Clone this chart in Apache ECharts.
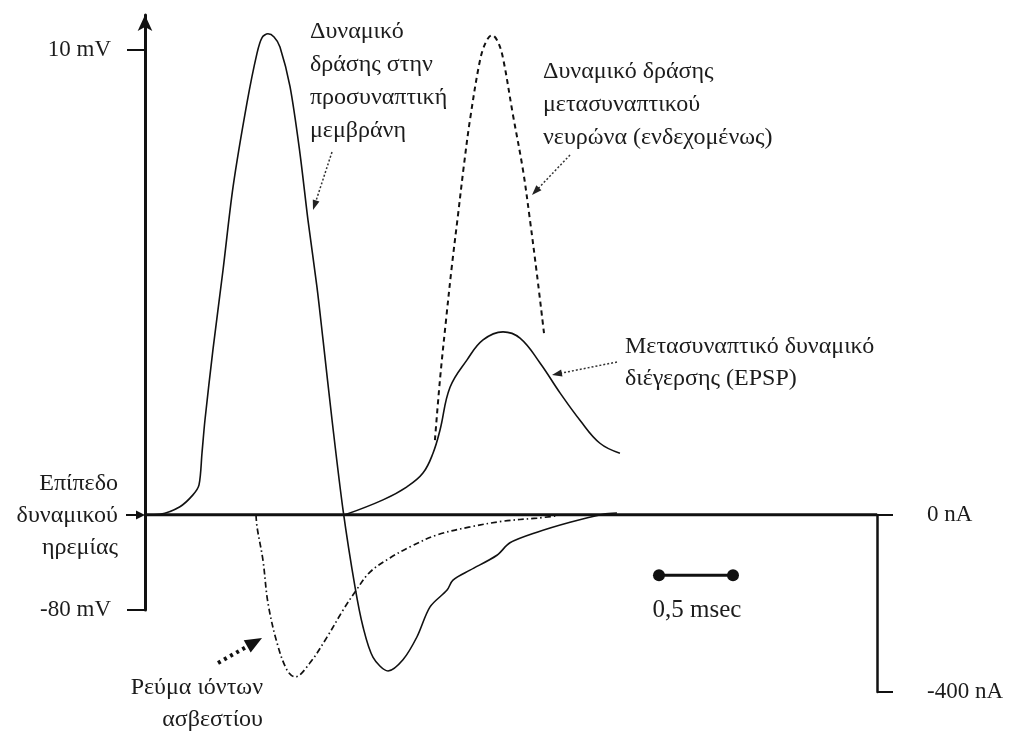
<!DOCTYPE html>
<html><head><meta charset="utf-8">
<script src="https://cdn.jsdelivr.net/npm/echarts@6/dist/echarts.min.js"></script>
<style>html,body{margin:0;padding:0;background:#fff}#c{width:1011px;height:731px}</style>
</head><body><div id="c"></div>
<script>
// time in ms, potential in mV, current in nA
const restLevel = -64.7;
const timeRange = [0, 4.946];
const preT = [0, 0.101, 0.236, 0.324, 0.365, 0.385, 0.405, 0.459, 0.527, 0.595, 0.689, 0.757, 0.791, 0.831, 0.872, 0.912, 0.980, 1.047, 1.101, 1.162, 1.203, 1.264, 1.338, 1.419, 1.473, 1.541, 1.642, 1.743, 1.838, 1.926, 2.041, 2.081, 2.196, 2.378, 2.466, 2.649, 2.872, 3.095, 3.189];
const preV = [-64.7, -64.6, -63.4, -61.5, -59.9, -54.8, -49.5, -38.2, -25.4, -12.0, 1.5, 9.5, 12.0, 12.6, 12.1, 10.5, 4.1, -6.6, -17.3, -28.1, -36.6, -49.5, -63.9, -76.3, -82.7, -87.6, -89.8, -88.0, -84.3, -79.5, -76.8, -75.2, -73.6, -71.2, -69.2, -67.5, -65.9, -64.6, -64.4];
const postT = [1.959, 1.993, 2.034, 2.074, 2.115, 2.155, 2.196, 2.264, 2.304, 2.345, 2.385, 2.419, 2.486, 2.554, 2.601, 2.649, 2.696];
const postV = [-52.7, -43.0, -33.4, -24.6, -16.5, -8.5, -1.2, 8.4, 11.3, 12.4, 11.3, 8.7, -0.4, -9.3, -17.3, -26.2, -35.5];
const epspT = [1.351, 1.608, 1.770, 1.878, 1.946, 1.993, 2.061, 2.176, 2.284, 2.419, 2.534, 2.669, 2.804, 2.939, 3.074, 3.209];
const epspV = [-64.7, -62.3, -60.2, -58.0, -54.8, -51.1, -44.2, -39.8, -36.6, -35.3, -36.3, -40.3, -45.1, -49.5, -53.2, -54.8];
const caT = [0.750, 0.757, 0.797, 0.831, 0.892, 0.959, 1.014, 1.115, 1.230, 1.338, 1.419, 1.520, 1.655, 1.791, 1.973, 2.196, 2.419, 2.649, 2.784];
const caI = [0, -27, -102, -199, -289, -350, -366, -334, -276, -215, -174, -129, -97, -72, -45, -27, -14, -7, -2];
const mvTicks = [-80, 10];
const naTicks = [-400, 0];
const scaleT = [3.473, 3.973];
const scaleLevel = -74.4;
const scaleText = '0,5 msec';
const textPre = ['Δυναμικό', 'δράσης στην', 'προσυναπτική', 'μεμβράνη'];
const textPost = ['Δυναμικό δράσης', 'μετασυναπτικού', 'νευρώνα (ενδεχομένως)'];
const textEpsp = ['Μετασυναπτικό δυναμικό', 'διέγερσης (EPSP)'];
const textRest = ['Επίπεδο', 'δυναμικού', 'ηρεμίας'];
const textCa = ['Ρεύμα ιόντων', 'ασβεστίου'];

const zip = (a, b) => a.map((v, i) => [v, b[i]]);
const FAMILY = '"Liberation Serif", "Times New Roman", serif';
const FONT = '24px ' + FAMILY;
const INK = '#1c1c1c';

function block(lines, x, y0, lh, align) {
  return lines.map((t, i) => ({
    type: 'text', silent: true,
    style: { text: t, x: x, y: y0 + i * lh, font: FONT, fill: INK, textAlign: align || 'left', textVerticalAlign: 'middle' }
  }));
}
function arrow(x1, y1, x2, y2, o) {
  const dx = x2 - x1, dy = y2 - y1, len = Math.hypot(dx, dy);
  const ux = dx / len, uy = dy / len, px = -uy, py = ux;
  const bx = x2 - ux * o.L, by = y2 - uy * o.L;
  return [
    { type: 'line', silent: true, shape: { x1: x1, y1: y1, x2: bx + ux * 1, y2: by + uy * 1 },
      style: { stroke: o.color || '#333', lineWidth: o.w, lineDash: o.dash || null, lineCap: o.cap || 'butt' } },
    { type: 'polygon', silent: true, shape: { points: [[x2, y2], [bx + px * o.W / 2, by + py * o.W / 2], [bx - px * o.W / 2, by - py * o.W / 2]] },
      style: { fill: o.color || '#222' } }
  ];
}

const graphics = [].concat(
  block(textPre, 310, 32, 33),
  block(textPost, 543, 72, 33),
  block(textEpsp, 625, 347, 32),
  block(textRest, 118, 484, 32, 'right'),
  block(textCa, 263, 688, 32, 'right'),
  [{ type: 'text', silent: true, style: { text: scaleText, x: 697, y: 610, font: '25px ' + FAMILY, fill: INK, textAlign: 'center', textVerticalAlign: 'middle' } }],
  arrow(332, 152, 313, 210, { w: 1.5, dash: [2, 2], L: 10, W: 7 }),
  arrow(570, 155, 532, 195, { w: 1.5, dash: [2, 2], L: 10, W: 7 }),
  arrow(617, 362, 552, 375, { w: 1.5, dash: [2, 2], L: 10, W: 7 }),
  arrow(126, 515, 145, 515, { w: 2, L: 9, W: 9, color: '#111' }),
  arrow(218, 663, 262, 638, { w: 4, dash: [3, 4], L: 17, W: 14, color: '#111' })
);

const chart = echarts.init(document.getElementById('c'), null, { renderer: 'canvas' });
const axisFont = { fontFamily: FAMILY, fontSize: 23, color: INK };
chart.setOption({
  animation: false,
  backgroundColor: '#fff',
  grid: [
    { left: 145, right: 134, top: 15, bottom: 121 },
    { left: 145, right: 134, top: 515, bottom: 39 }
  ],
  xAxis: [
    { gridIndex: 0, type: 'value', min: timeRange[0], max: timeRange[1], show: false },
    { gridIndex: 1, type: 'value', min: timeRange[0], max: timeRange[1], show: false }
  ],
  yAxis: [
    { gridIndex: 0, type: 'value', min: -80, max: 15.625, interval: 90, position: 'left',
      axisLine: { show: true, onZero: false, symbol: ['none', 'arrow'], symbolSize: [11, 16], lineStyle: { color: '#111', width: 3 } },
      axisTick: { show: true, length: 18, customValues: mvTicks, lineStyle: { color: '#111', width: 2 } },
      axisLabel: Object.assign({ margin: 34, customValues: mvTicks, formatter: v => v + ' mV' }, axisFont),
      splitLine: { show: false } },
    { gridIndex: 1, type: 'value', min: -400, max: 0, interval: 400, position: 'right',
      axisLine: { show: true, onZero: false, lineStyle: { color: '#111', width: 2.5 } },
      axisTick: { show: true, length: 16, customValues: naTicks, lineStyle: { color: '#111', width: 2 } },
      axisLabel: Object.assign({ margin: 50, customValues: naTicks, formatter: v => v + ' nA' }, axisFont),
      splitLine: { show: false } }
  ],
  series: [
    { name: 'rest', type: 'line', xAxisIndex: 0, yAxisIndex: 0, data: [[timeRange[0], restLevel], [timeRange[1], restLevel]],
      symbol: 'none', lineStyle: { color: '#111', width: 3 }, silent: true },
    { name: 'presynaptic AP', type: 'line', xAxisIndex: 0, yAxisIndex: 0, data: zip(preT, preV), clip: false,
      symbol: 'none', smooth: 0.3, lineStyle: { color: '#111', width: 1.6 } },
    { name: 'postsynaptic AP', type: 'line', xAxisIndex: 0, yAxisIndex: 0, data: zip(postT, postV), clip: false,
      symbol: 'none', smooth: 0.35, lineStyle: { color: '#111', width: 2, type: [5, 4] } },
    { name: 'EPSP', type: 'line', xAxisIndex: 0, yAxisIndex: 0, data: zip(epspT, epspV), clip: false,
      symbol: 'none', smooth: 0.4, lineStyle: { color: '#111', width: 1.6 } },
    { name: 'Ca current', type: 'line', xAxisIndex: 1, yAxisIndex: 1, data: zip(caT, caI), clip: false,
      symbol: 'none', smooth: 0.35, lineStyle: { color: '#111', width: 1.7, type: [6, 3, 1.5, 3] } },
    { name: 'scale', type: 'line', xAxisIndex: 0, yAxisIndex: 0, data: scaleT.map(t => [t, scaleLevel]),
      symbol: 'circle', symbolSize: 12, itemStyle: { color: '#111' }, lineStyle: { color: '#111', width: 3 } }
  ],
  graphic: graphics
});
</script></body></html>
